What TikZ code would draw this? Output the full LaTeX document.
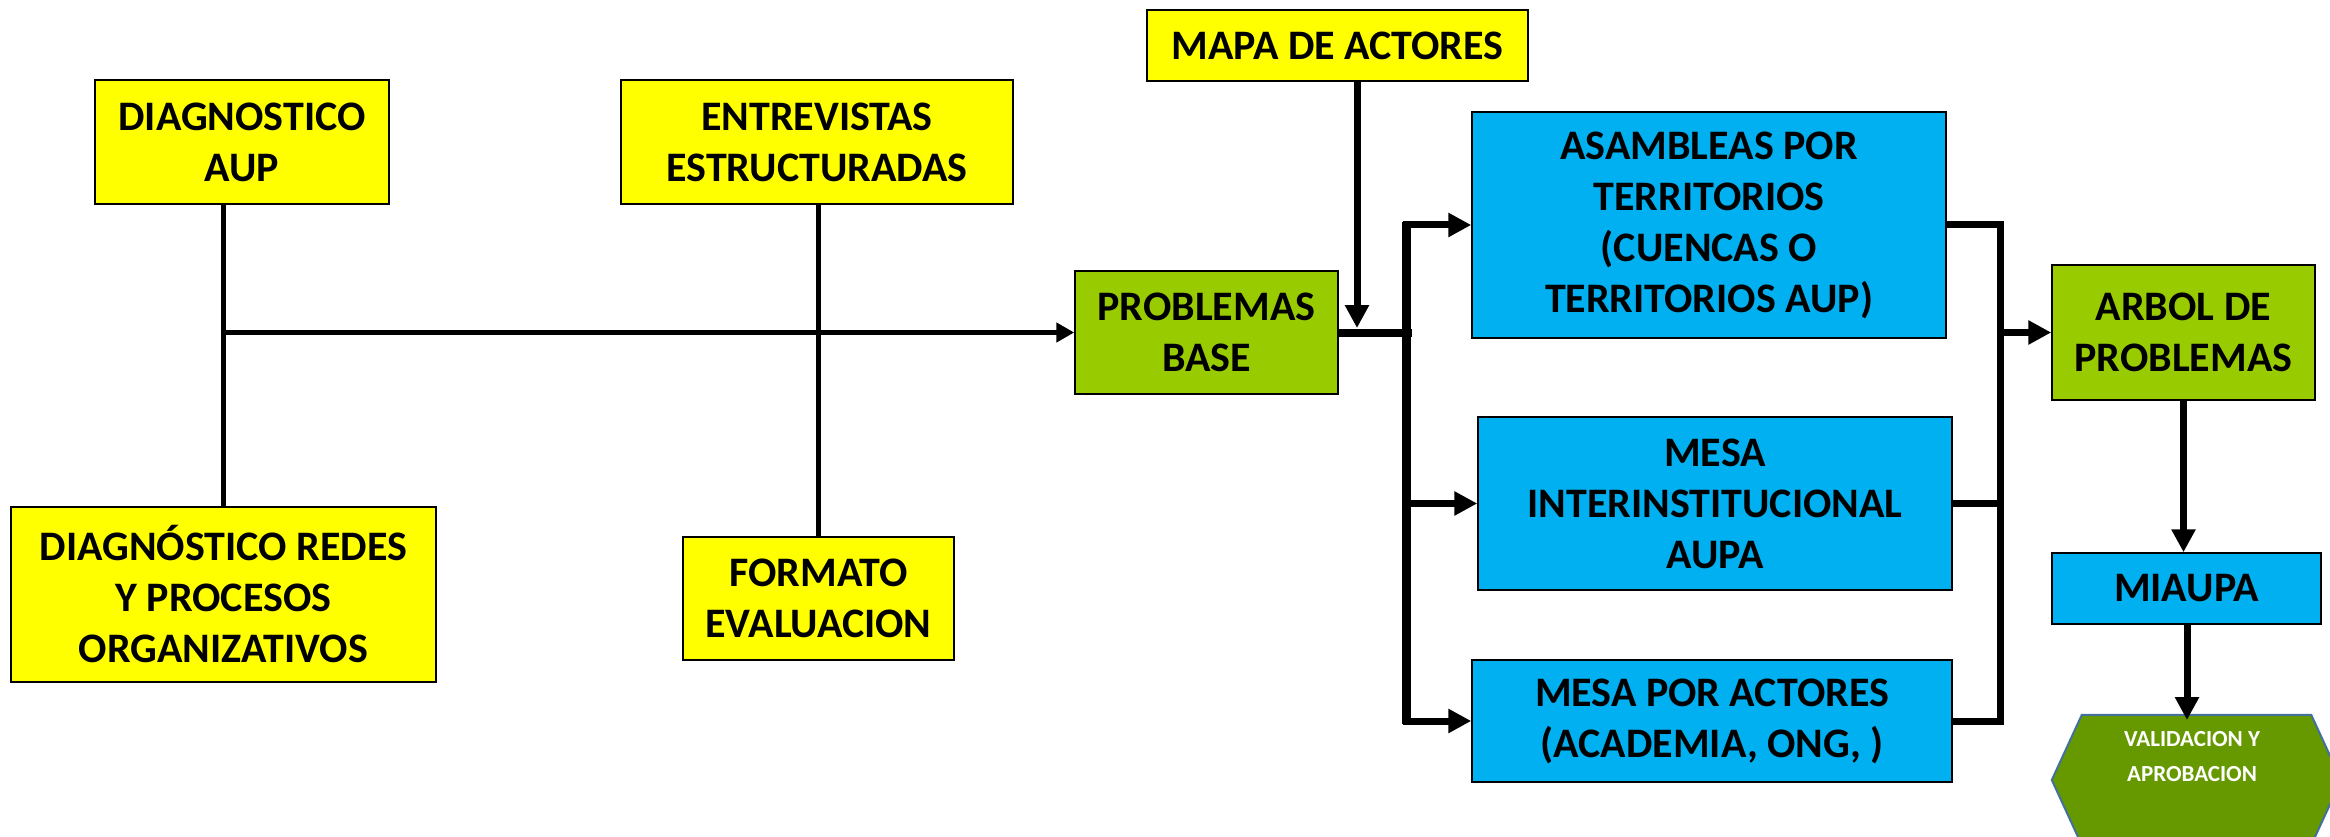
\documentclass[tikz,border=0pt]{standalone}
\usepackage{fontspec}
\setmainfont{Carlito}
\usetikzlibrary{arrows.meta,calc}
\definecolor{ybox}{HTML}{FFFF00}
\definecolor{gbox}{HTML}{99CC00}
\definecolor{bbox}{HTML}{00B0F0}
\definecolor{hexg}{HTML}{669900}
\definecolor{hexb}{HTML}{41719C}
\tikzset{
  box/.style={draw=black, line width=1.5pt, align=center, inner sep=0pt,
    font=\fontsize{42}{51}\selectfont\bfseries, text=black},
  ybx/.style={box, fill=ybox},
  gbx/.style={box, fill=gbox},
  bbx/.style={box, fill=bbox},
  thinln/.style={line width=5.5pt, draw=black},
  busln/.style={line width=8pt, draw=black, line join=miter},
  medln/.style={line width=7pt, draw=black, line join=miter},
  ahsmall/.style={-{Triangle[length=18pt,width=19pt]}},
  ahbig/.style={-{Triangle[length=23pt,width=23pt]}},
  ahboth/.style={{Triangle[length=23pt,width=23pt]}-{Triangle[length=23pt,width=23pt]}},
}
\begin{document}
\begin{tikzpicture}[x=1pt,y=-1pt]
\clip (0,0) rectangle (2330,837);
\fill[white] (0,0) rectangle (2330,837);

% nodes
\node[ybx, minimum width=294pt, minimum height=124pt] (aup) at (242,142) {DIAGNOSTICO\\AUP};
\node[ybx, minimum width=392pt, minimum height=124pt] (ent) at (817,142) {ENTREVISTAS\\ESTRUCTURADAS};
\node[ybx, minimum width=425pt, minimum height=175pt] (redes) at (223.5,594.5) {DIAGNÓSTICO REDES\\Y PROCESOS\\ORGANIZATIVOS};
\node[ybx, minimum width=271pt, minimum height=123pt] (fmt) at (818.5,598.5) {FORMATO\\EVALUACION};
\node[gbx, minimum width=263pt, minimum height=123pt] (pb) at (1206.5,332.5) {PROBLEMAS\\BASE};
\node[ybx, minimum width=381pt, minimum height=71pt] (mapa) at (1337.5,45.5) {MAPA DE ACTORES};
\node[bbx, minimum width=474pt, minimum height=226pt] (asam) at (1709,225) {ASAMBLEAS POR\\TERRITORIOS\\(CUENCAS O\\TERRITORIOS AUP)};
\node[bbx, minimum width=474pt, minimum height=173pt] (inter) at (1715,503.5) {MESA\\INTERINSTITUCIONAL\\AUPA};
\node[bbx, minimum width=480pt, minimum height=122pt] (mact) at (1712,721) {MESA POR ACTORES\\(ACADEMIA, ONG, )};
\node[gbx, minimum width=263pt, minimum height=135pt] (arbol) at (2183.5,332.5) {ARBOL DE\\PROBLEMAS};
\node[bbx, minimum width=269pt, minimum height=71pt] (miaupa) at (2186.5,588.5) {MIAUPA};

% hexagon
\node[inner sep=0pt, minimum width=229pt, minimum height=130pt] (val) at (2196.5,780) {};
\draw[fill=hexg, draw=hexb, line width=2pt]
  (val.north west) -- (val.north east) -- ($(val.east)+(30,0)$) -- (val.south east)
  -- (val.south west) -- ($(val.west)-(30,0)$) -- cycle;
\node[align=center, inner sep=0pt, text=white, font=\fontsize{23}{35}\selectfont\bfseries] (valtxt) at (2192,757) {VALIDACION Y\\APROBACION};

% left connectors
\draw[thinln] (redes.north) -- (redes.north |- aup.south);
\draw[thinln, ahsmall] (redes.north |- pb.west) -- (pb.west);
\draw[thinln] (fmt.north |- ent.south) -- (fmt.north);

% mapa arrow
\coordinate (mj) at (1357,328);
\draw[medln, ahbig] (mj |- mapa.south) -- (mj);

% left bus
\coordinate (lb) at (1406,0);
\draw[busln] (pb.east) -- ($(lb |- pb.east)+(6,0)$);
\draw[medln, ahboth] (asam.west) -- (lb |- asam.west) -- (lb |- mact.west) -- (mact.west);
\draw[medln, ahbig] (lb |- inter.west) -- (inter.west);
\draw[line width=9pt] ($(lb |- asam.west)+(0,-3)$) -- ($(lb |- mact.west)+(0,3)$);

% right bus
\coordinate (rb) at (2000,0);
\draw[medln] (asam.east) -- (rb |- asam.east) -- (rb |- mact.east) -- (mact.east);
\draw[medln] (inter.east) -- (rb |- inter.east);
\draw[medln, ahbig] (rb |- arbol.west) -- (arbol.west);

% right column
\draw[medln, ahbig] (arbol.south) -- (arbol.south |- miaupa.north);
\coordinate (vt) at (2187,720);
\draw[medln, ahbig] (vt |- miaupa.south) -- (vt);
\end{tikzpicture}
\end{document}
